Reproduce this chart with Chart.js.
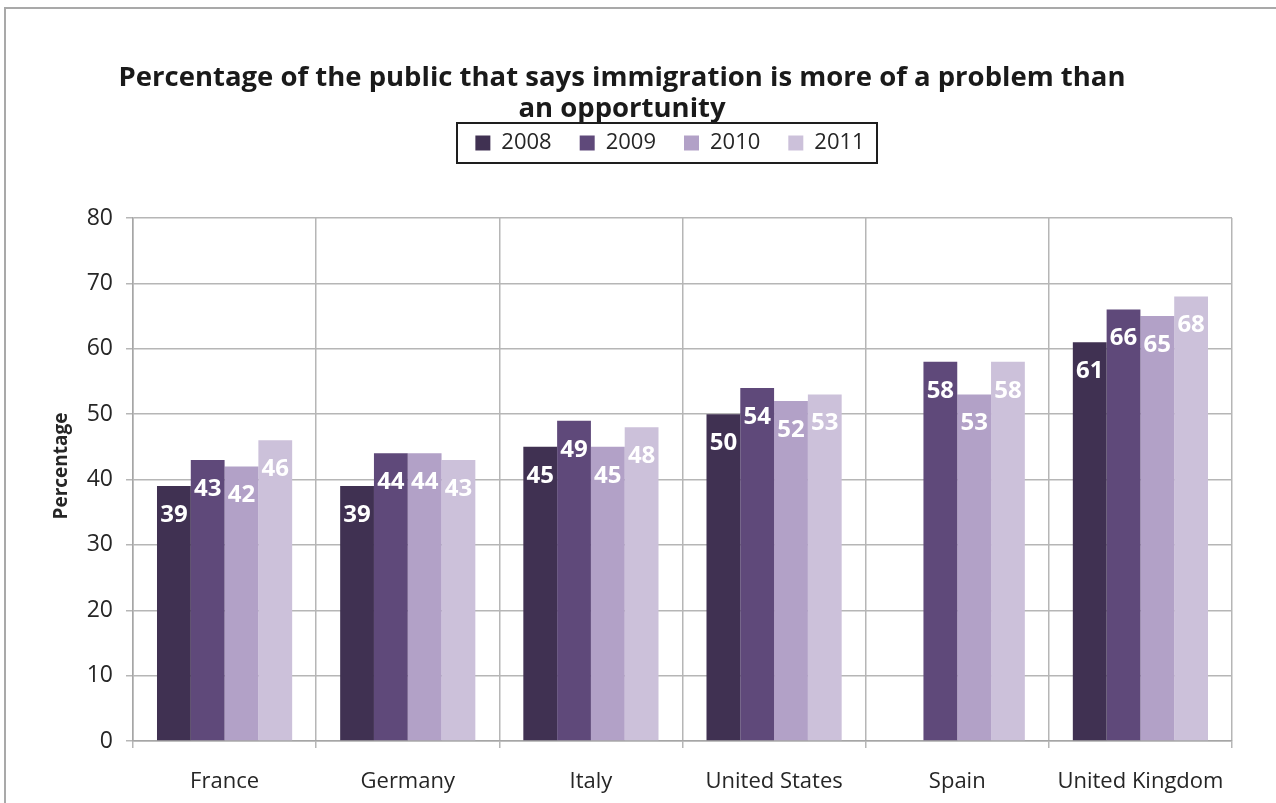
<!DOCTYPE html>
<html>
<head>
<meta charset="utf-8">
<script src="https://cdn.jsdelivr.net/npm/chart.js@4/dist/chart.umd.min.js"></script>
<style>
  html, body { margin: 0; padding: 0; background: #fff; overflow: hidden; }
  #frame { position: absolute; left: 4px; top: 7px; width: 1400px; height: 1000px; border: 2px solid #a9a9a9; }
  #c { position: absolute; left: 0; top: 0; }
</style>
</head>
<body>
<div id="frame"></div>
<canvas id="c" width="1276" height="803"></canvas>
<script>
// Survey results by country and year
const categories = ['France', 'Germany', 'Italy', 'United States', 'Spain', 'United Kingdom'];
const years = ['2008', '2009', '2010', '2011'];
const values2008 = [39, 39, 45, 50, null, 61];
const values2009 = [43, 44, 49, 54, 58, 66];
const values2010 = [42, 44, 45, 52, 53, 65];
const values2011 = [46, 43, 48, 53, 58, 68];
const seriesColors = ['#403152', '#5f497a', '#b2a1c7', '#ccc1da'];
const titleLines = ['Percentage of the public that says immigration is more of a problem than', 'an opportunity'];
const yAxisTitle = 'Percentage';

const FONT = "'Open Sans', 'Noto Sans', sans-serif";
const TEXT = '#262626';

const seriesValues = [values2008, values2009, values2010, values2011];
const datasets = years.map((y, i) => ({
  label: y,
  data: seriesValues[i],
  backgroundColor: seriesColors[i],
  borderWidth: 0,
  categoryPercentage: 0.738,
  barPercentage: 1.0
}));

// Moves title/legend blocks horizontally/vertically after layout
const blockOffsets = {
  id: 'blockOffsets',
  afterLayout(chart) {
    const t = chart.titleBlock;
    if (t) { t.left += 6; t.right += 6; }
    const lg = chart.legend;
    if (lg) { lg.left += 54; lg.right += 54; lg.top -= 54; lg.bottom -= 54; }
  }
};

// Frame drawn around the legend row
const legendFrame = {
  id: 'legendFrame',
  afterDraw(chart) {
    const lg = chart.legend;
    if (!lg || !lg.lineWidths) return;
    const pad = lg.options.labels.padding;
    const fontSize = lg.options.labels.font.size;
    const rowStart = ((lg.left + pad) + (lg.right - lg.lineWidths[0])) / 2;
    const rowWidth = lg.lineWidths[0] - pad;
    const cy = lg.top + pad + fontSize / 2;
    const ctx = chart.ctx;
    ctx.save();
    ctx.strokeStyle = '#1e1e1e';
    ctx.lineWidth = 2;
    ctx.strokeRect(Math.round(rowStart - 18), Math.round(cy - 20), Math.round(rowWidth + 31), 40);
    ctx.restore();
  }
};

// Value labels inside the top of each bar, plus the vertical axis title
const barLabels = {
  id: 'barLabels',
  afterDatasetsDraw(chart) {
    const ctx = chart.ctx;
    ctx.save();
    ctx.font = 'bold 24px ' + FONT;
    ctx.fillStyle = '#ffffff';
    ctx.textAlign = 'center';
    ctx.textBaseline = 'middle';
    chart.data.datasets.forEach((ds, di) => {
      const meta = chart.getDatasetMeta(di);
      meta.data.forEach((bar, i) => {
        const v = ds.data[i];
        if (v === null || v === undefined) return;
        ctx.fillText(String(v), bar.x, bar.y + 29);
      });
    });
    ctx.restore();
  },
  afterDraw(chart) {
    const ctx = chart.ctx;
    ctx.save();
    ctx.translate(62, 466);
    ctx.rotate(-Math.PI / 2);
    ctx.font = 'bold 19px ' + FONT;
    ctx.fillStyle = TEXT;
    ctx.textAlign = 'center';
    ctx.textBaseline = 'middle';
    ctx.fillText(yAxisTitle, 0, 0);
    ctx.restore();
  }
};

new Chart(document.getElementById('c'), {
  type: 'bar',
  data: { labels: categories, datasets },
  plugins: [blockOffsets, legendFrame, barLabels],
  options: {
    responsive: false,
    devicePixelRatio: 1,
    animation: false,
    layout: { padding: { left: 0, right: 44, top: 0, bottom: 0 } },
    plugins: {
      tooltip: { enabled: false },
      title: {
        display: true,
        text: titleLines,
        color: '#1a1a1a',
        font: { family: FONT, size: 27.5, weight: 'bold', lineHeight: '31px' },
        padding: { top: 62.5, bottom: 33.5 }
      },
      legend: {
        display: true,
        position: 'top',
        align: 'center',
        labels: {
          boxWidth: 15,
          boxHeight: 15,
          padding: 28,
          color: TEXT,
          font: { family: FONT, size: 22 }
        }
      }
    },
    scales: {
      x: {
        grid: { color: '#b6b6b6', lineWidth: 1.5, tickLength: 7, offset: true },
        border: { color: '#a6a6a6', width: 1.5 },
        ticks: {
          color: TEXT,
          font: { family: FONT, size: 22 },
          padding: 21,
          maxRotation: 0,
          autoSkip: false
        },
        afterFit(scale) { scale.height = 62; }
      },
      y: {
        min: 0,
        max: 80,
        grid: { color: '#b6b6b6', lineWidth: 1.5, tickLength: 7 },
        border: { color: '#a6a6a6', width: 1.5 },
        ticks: {
          stepSize: 10,
          color: TEXT,
          font: { family: FONT, size: 23 },
          padding: 13
        },
        afterFit(scale) { scale.width = 133; }
      }
    }
  }
});
</script>
</body>
</html>
